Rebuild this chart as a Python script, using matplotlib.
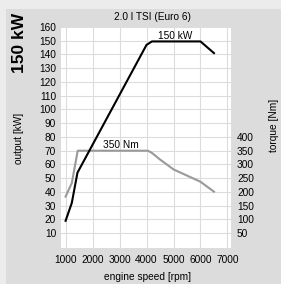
import matplotlib
matplotlib.use('Agg')
from matplotlib import pyplot as plt
from matplotlib.patches import Rectangle

plt.rcParams['font.family'] = ['Liberation Sans', 'DejaVu Sans']

# power curve (kW)
rpm_power = [1000, 1230, 1440, 4000, 4200, 6000, 6500]
power_kw = [19, 32, 54, 147, 149.5, 149.5, 141]

# torque curve (Nm)
rpm_torque = [1000, 1230, 1450, 4050, 4200, 4500, 5000, 6000, 6500]
torque_nm = [183, 232, 350, 350, 342, 318, 282, 237, 201]

x_ticks = [1000, 2000, 3000, 4000, 5000, 6000, 7000]
kw_ticks = list(range(10, 170, 10))
nm_ticks = list(range(50, 450, 50))

fig = plt.figure(figsize=(2.81, 2.84), dpi=100)
fig.patch.set_facecolor('#ececec')
fig.patches.append(Rectangle((6 / 281, 0), 1, 1 - 9 / 284, transform=fig.transFigure,
                             facecolor='#dcdcdc', edgecolor='none', zorder=-10))

ax = fig.add_axes([61 / 281, 1 - 248.3 / 284, 169.7 / 281, 221.3 / 284])
ax.set_zorder(1)
ax.set_facecolor('white')
ax.set_xlim(830, 7120)
ax.set_ylim(-1, 160)
ax.set_xticks(x_ticks)
ax.set_yticks(kw_ticks)
ax.grid(True, color='#dcdcdc', linewidth=0.8)
ax.set_axisbelow(True)
for s in ax.spines.values():
    s.set_visible(False)
ax.tick_params(length=0, labelsize=7.3, pad=3.5)
ax.tick_params(axis='x', pad=5)

ax2 = ax.twinx()
ax2.set_zorder(2)
ax2.set_ylim(-5, 800)
ax2.set_yticks(nm_ticks)
for s in ax2.spines.values():
    s.set_visible(False)
ax2.tick_params(length=0, labelsize=7.3, pad=4.5)

ax2.plot(rpm_torque, torque_nm, color='#999999', linewidth=1.5, solid_joinstyle='round')
ax2.plot(rpm_power, [p * 5 for p in power_kw], color='black', linewidth=1.5, solid_joinstyle='round')

ax2.text(5050, 153.5 * 5, '150 kW', fontsize=7.3, ha='center', va='center')
ax2.text(3050, 370, '350 Nm', fontsize=7.3, ha='center', va='center')

fig.text(152 / 281, 1 - 17 / 284, '2.0 l TSI (Euro 6)', fontsize=7.3, ha='center', va='center')
fig.text(147 / 281, 1 - 277 / 284, 'engine speed [rpm]', fontsize=7.3, ha='center', va='center')
fig.text(19 / 281, 1 - 138 / 284, 'output [kW]', fontsize=7.3, rotation=90, ha='center', va='center')
fig.text(274 / 281, 1 - 125 / 284, 'torque [Nm]', fontsize=7.3, rotation=90, ha='center', va='center')
fig.text(20 / 281, 1 - 43 / 284, '150 kW', fontsize=12.5, fontweight='bold', rotation=90,
         ha='center', va='center')

fig.savefig('out.png', dpi=100, facecolor=fig.get_facecolor())
